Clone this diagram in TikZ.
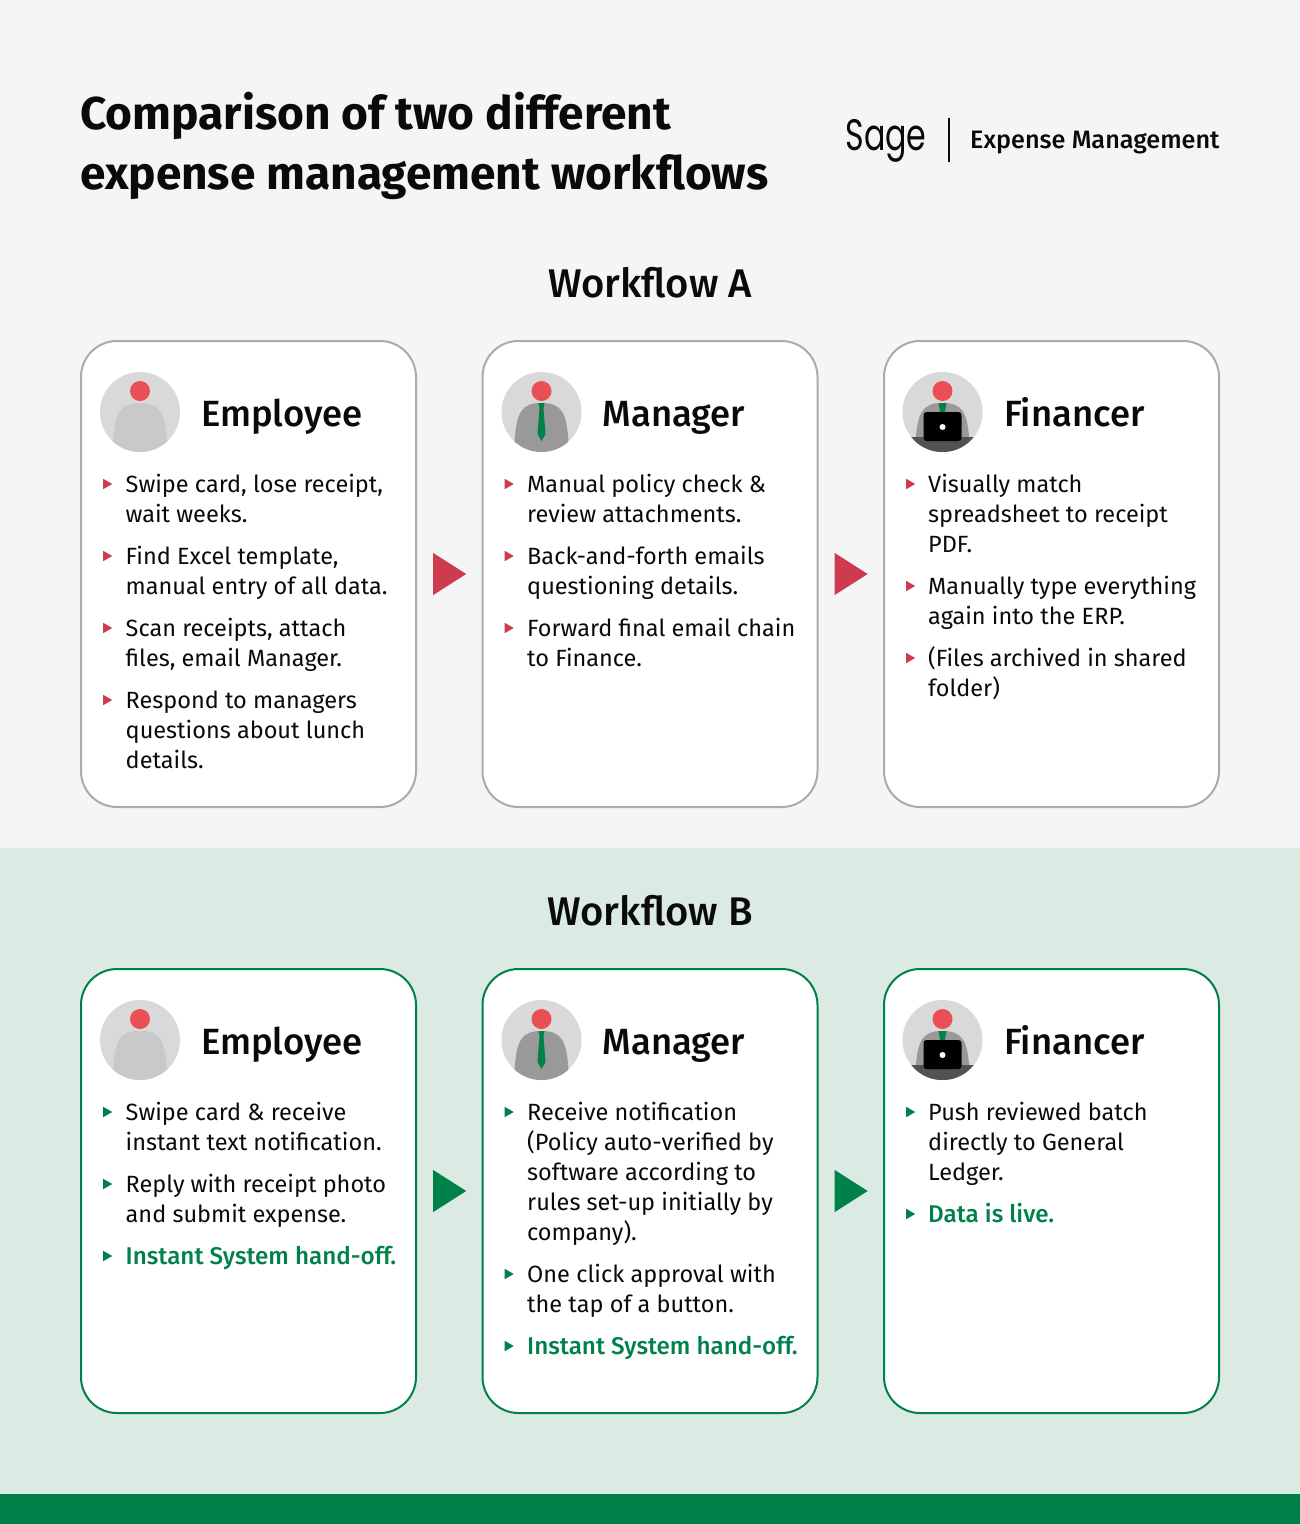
\documentclass[tikz,border=0pt]{standalone}
\usepackage{fontspec}
\setmainfont{Fira Sans}
\newfontfamily\logofont{Poppins}
\newfontfamily\medfont{Fira Sans Medium}
\usetikzlibrary{shapes.geometric}

\definecolor{pagegrey}{HTML}{F4F5F7}
\definecolor{bandgreen}{HTML}{DBEAE3}
\definecolor{sagegreen}{HTML}{00814A}
\definecolor{alertred}{HTML}{CE3A4E}
\definecolor{headred}{HTML}{EA4F55}
\definecolor{inkblack}{HTML}{0A0A0A}

\newcommand{\greenitem}[1]{\textcolor{sagegreen}{\medfont\fontsize{24.2}{30}\selectfont #1}}

\tikzset{
    cardbox/.style={draw=#1, line width=2pt, fill=white, rounded corners=36pt, minimum width=335pt, inner sep=0pt, anchor=north west},
    bigarrow/.style={isosceles triangle, isosceles triangle apex angle=65, fill=#1, inner sep=0pt, minimum height=33pt, anchor=lower side},
    tinyarrow/.style={isosceles triangle, isosceles triangle apex angle=60, fill=#1, inner sep=0pt, minimum height=9pt, anchor=lower side},
    itemtext/.style={anchor=north west, inner sep=0pt, align=left, text=inkblack, font=\fontsize{23.5}{30}\selectfont},
    roletext/.style={anchor=base west, inner sep=0pt, text=inkblack, font=\medfont\fontsize{36.5}{40}\selectfont},
    flowtext/.style={inner sep=0pt, text=inkblack, font=\medfont\fontsize{40}{44}\selectfont},
    pics/avatarbase/.style={code={
        \fill[black!15] (0,0) circle (40pt);
        \begin{scope}
            \clip (0,0) circle (40pt);
            \fill[#1] (-28,45) -- (-27,30) .. controls (-25,0) and (-20,-9) .. (0,-9) .. controls (20,-9) and (25,0) .. (27,30) -- (28,45) -- cycle;
        \end{scope}
        \fill[headred] (0,-21) circle (10pt);
    }},
    pics/employee/.style={code={
        \pic {avatarbase=black!21};
    }},
    pics/manager/.style={code={
        \pic {avatarbase=black!40};
        \fill[sagegreen] (-3,-9) -- (3,-9) -- (2,-4) -- (4,22) -- (0,29) -- (-4,22) -- (-2,-4) -- cycle;
    }},
    pics/financer/.style={code={
        \pic {avatarbase=black!40};
        \fill[sagegreen] (-4,-9) -- (4,-9) -- (2,2) -- (-2,2) -- cycle;
        \begin{scope}
            \clip (0,0) circle (40pt);
            \fill[black!68] (-40,25) -- (40,25) -- (40,40) -- (-40,40) -- cycle;
        \end{scope}
        \fill[black, rounded corners=3pt] (-19,0) rectangle (19,29);
        \fill[white] (0,15) circle (3pt);
    }},
}

\begin{document}
\begin{tikzpicture}[x=1pt, y=-1pt]
    \useasboundingbox (0,0) rectangle (1300,1524);

    % --- backgrounds ---
    \fill[pagegrey] (0,0) rectangle (1300,848);
    \fill[bandgreen] (0,848) rectangle (1300,1494);
    \fill[sagegreen] (0,1494) rectangle (1300,1524);

    % --- header ---
    \node[anchor=west, inner sep=0pt, align=left, text=inkblack, font=\fontsize{46}{60}\selectfont\bfseries] (title) at (80,146) {Comparison of two different\\expense management workflows};
    \node[anchor=base, inner sep=0pt, text=inkblack, xscale=0.72, transform shape, font=\logofont\fontsize{44}{46}\selectfont] (logo) at (886,150) {Sage};
    \coordinate (ruletop) at (949,118); \coordinate (rulebot) at (949,162);
    \draw[inkblack, line width=1.3pt] (ruletop)--(rulebot);
    \node[anchor=west, inner sep=0pt, text=inkblack, font=\medfont\fontsize{25.2}{30}\selectfont] (product) at (970,143) {Expense Management};

    \node[flowtext] (flowa) at (650,283) {Workflow A};
    \node[flowtext] (flowb) at (650,911) {Workflow B};

    % --- cards ---
    \foreach \x/\k in {80/a,481.5/b,883/c} {
        \node[cardbox=black!33, minimum height=466pt] (cardA\k) at (\x,340) {};
        \node[cardbox=sagegreen, minimum height=444pt] (cardB\k) at (\x,968) {};
    }

    % --- avatars and role names ---
    \foreach \y/\r in {412/A,1040/B} {
        \pic at (140,\y) {employee};
        \pic at (541.5,\y) {manager};
        \pic at (942.5,\y) {financer};
        \node[roletext] (emp\r) at (201,\y+14) {Employee};
        \node[roletext] (man\r) at (602.5,\y+14) {Manager};
        \node[roletext] (fin\r) at (1004,\y+14) {Financer};
    }

    % --- big arrows ---
    \node[bigarrow=alertred] (arrA1) at (433,574) {};
    \node[bigarrow=alertred] (arrA2) at (834.5,574) {};
    \node[bigarrow=sagegreen] (arrB1) at (433,1191) {};
    \node[bigarrow=sagegreen] (arrB2) at (834.5,1191) {};

    % --- Workflow A items ---
    \foreach \y/\t in {484/{Swipe card, lose receipt,\\wait weeks.}, 556/{Find Excel template,\\manual entry of all data.}, 628/{Scan receipts, attach\\files, email Manager.}, 700/{Respond to managers\\questions about lunch\\details.}} {
        \node[tinyarrow=alertred] (bAa\y) at (103,\y) {};
        \node[itemtext] (tAa\y) at (125.5,\y-13) {\strut\t};
    }
    \foreach \y/\t in {484/{Manual policy check \&\\review attachments.}, 556/{Back-and-forth emails\\questioning details.}, 628/{Forward final email chain\\to Finance.}} {
        \node[tinyarrow=alertred] (bAb\y) at (504.5,\y) {};
        \node[itemtext] (tAb\y) at (527,\y-13) {\strut\t};
    }
    \foreach \y/\t in {484/{Visually match\\spreadsheet to receipt\\PDF.}, 586/{Manually type everything\\again into the ERP.}, 658/{(Files archived in shared\\folder)}} {
        \node[tinyarrow=alertred] (bAc\y) at (906,\y) {};
        \node[itemtext] (tAc\y) at (928,\y-13) {\strut\t};
    }

    % --- Workflow B items ---
    \foreach \y/\t in {1112/{Swipe card \& receive\\instant text notification.}, 1184/{Reply with receipt photo\\and submit expense.}, 1256/{\greenitem{Instant System hand-off.}}} {
        \node[tinyarrow=sagegreen] (bBa\y) at (103,\y) {};
        \node[itemtext] (tBa\y) at (125.5,\y-13) {\strut\t};
    }
    \foreach \y/\t in {1112/{Receive notification\\(Policy auto-verified by\\software according to\\rules set-up initially by\\company).}, 1274/{One click approval with\\the tap of a button.}, 1346/{\greenitem{Instant System hand-off.}}} {
        \node[tinyarrow=sagegreen] (bBb\y) at (504.5,\y) {};
        \node[itemtext] (tBb\y) at (527,\y-13) {\strut\t};
    }
    \foreach \y/\t in {1112/{Push reviewed batch\\directly to General\\Ledger.}, 1214/{\greenitem{Data is live.}}} {
        \node[tinyarrow=sagegreen] (bBc\y) at (906,\y) {};
        \node[itemtext] (tBc\y) at (928,\y-13) {\strut\t};
    }
\end{tikzpicture}
\end{document}
